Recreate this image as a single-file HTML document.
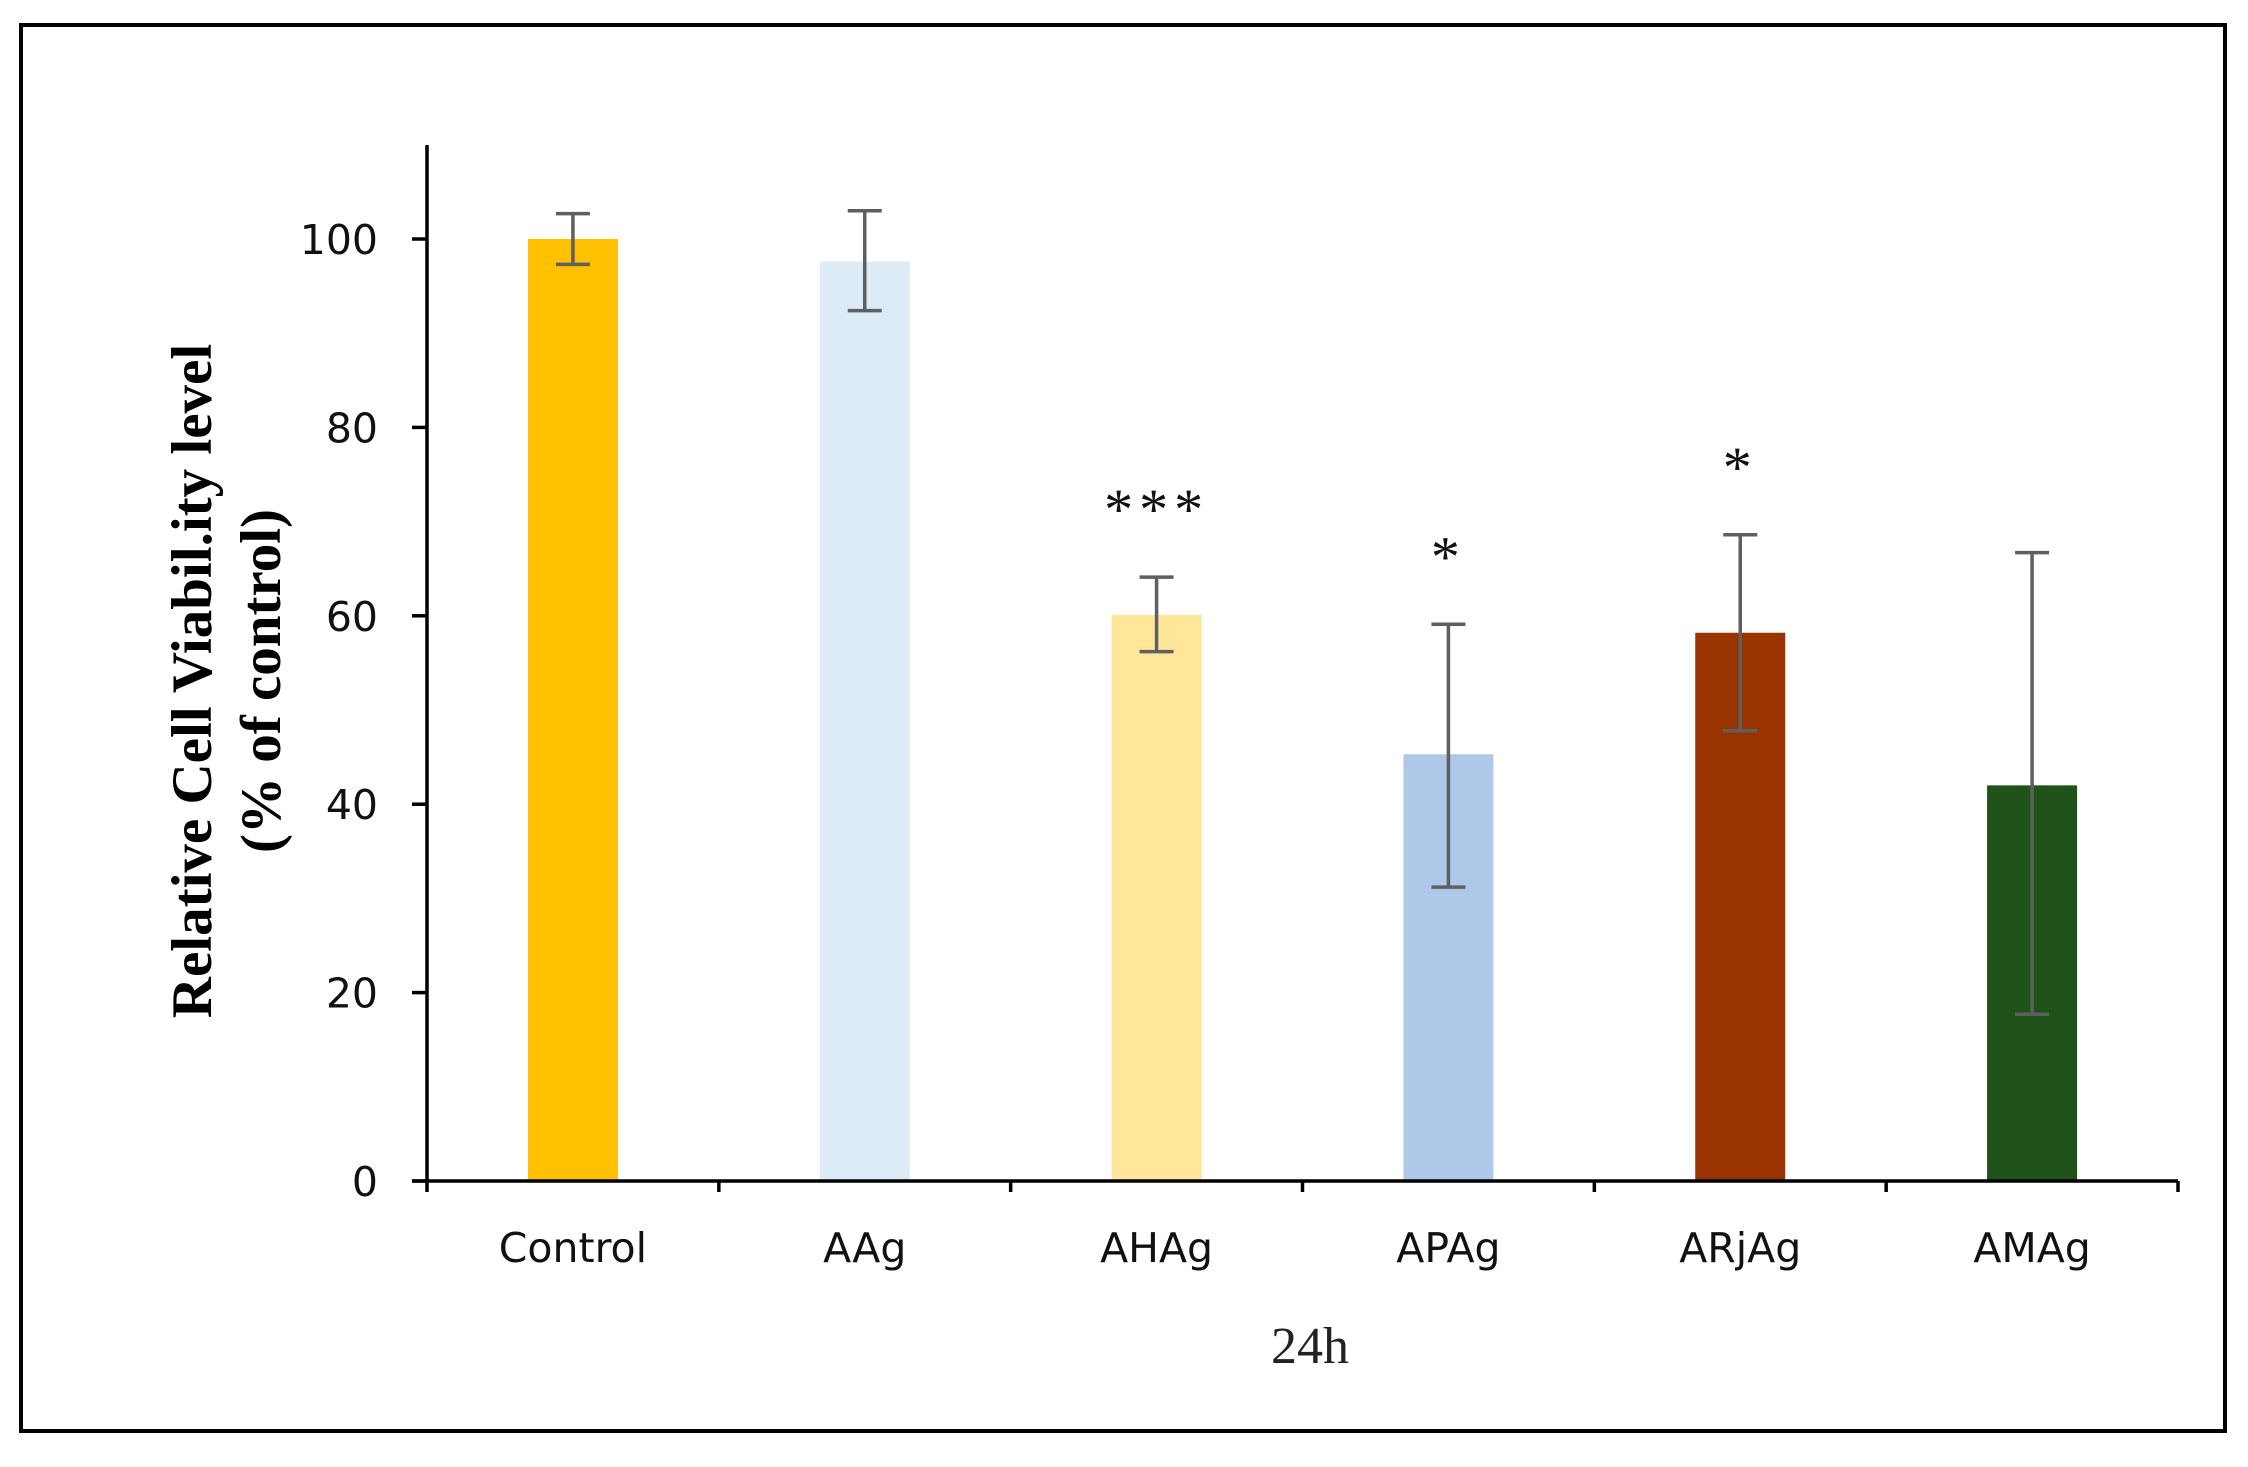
<!DOCTYPE html>
<html><head><meta charset="utf-8">
<style>
html,body{margin:0;padding:0;background:#fff;}
svg{display:block;}
</style></head>
<body>
<svg id="chart" width="2248" height="1467" viewBox="0 0 2248 1467" xmlns="http://www.w3.org/2000/svg">
<rect x="21" y="25" width="2204" height="1406" fill="none" stroke="#000" stroke-width="4"/>
<g id="plot"></g>
<text x="1310" y="1363" font-family="Liberation Serif, serif" font-size="52" text-anchor="middle" fill="#222">24h</text>
<text transform="translate(198,681) rotate(-90)" font-family="Liberation Serif, serif" font-weight="bold" font-size="57" text-anchor="middle" dominant-baseline="middle" fill="#000">Relative Cell Viabil.ity level</text>
<text transform="translate(267,681) rotate(-90)" font-family="Liberation Serif, serif" font-weight="bold" font-size="57" text-anchor="middle" dominant-baseline="middle" fill="#000">(% of control)</text>
</svg>
<script>
const categories = ["Control","AAg","AHAg","APAg","ARjAg","AMAg"];
const values = [100, 97.6, 60.1, 45.3, 58.2, 42.0];
const errUpper = [102.7, 103.0, 64.1, 59.1, 68.6, 66.7];
const errLower = [97.3, 92.4, 56.2, 31.2, 47.8, 17.7];
const stars = ["", "", "***", "*", "*", ""];
const yTicks = [0, 20, 40, 60, 80, 100];
const colors = ["#FFC000","#DDEBF7","#FFE699","#AFC8E9","#993300","#1F5319"];

const NS = "http://www.w3.org/2000/svg";
const g = document.getElementById("plot");
const x0 = 427, x1 = 2178, yZero = 1181, yTop = 145;
const pxPer = (1181 - 239) / 100;
const yS = v => yZero - v * pxPer;
const band = (x1 - x0) / categories.length;
const xC = i => x0 + band * (i + 0.5);
const barW = 90;

function mk(tag, attrs){ const e = document.createElementNS(NS, tag); for (const k in attrs) e.setAttribute(k, attrs[k]); g.appendChild(e); return e; }

categories.forEach((c, i) => {
  const r = mk("rect", {x: xC(i) - barW/2, y: yS(values[i]), width: barW, height: yZero - yS(values[i]), fill: colors[i]});
  
  
});

categories.forEach((c, i) => {
  const cx = xC(i), t = yS(errUpper[i]), b = yS(errLower[i]);
  const eb = mk("path", {d: `M${cx},${t}V${b}M${cx-17},${t}H${cx+17}M${cx-17},${b}H${cx+17}`, stroke: "#5f5f5f", "stroke-width": 3.5, fill: "none"});
  
  
  if (stars[i]) {
    const s = mk("text", {x: cx, y: t - 48, "font-family": "Liberation Serif, serif", "font-size": 58, "letter-spacing": 6, "text-anchor": "middle", fill: "#111"});
    s.textContent = stars[i];
    
    
  }
  const lab = mk("text", {x: cx, y: 1262, "font-family": "DejaVu Sans, sans-serif", "font-size": 41, "text-anchor": "middle", fill: "#111"});
  lab.textContent = c;
  
  
});

const ya = mk("path", {d: `M${x0},${yTop}V${yZero}`, stroke: "#000", "stroke-width": 3.5});


const xa = mk("path", {d: `M${x0-15},${yZero}H${x1}`, stroke: "#000", "stroke-width": 3.5});



for (let i = 0; i <= categories.length; i++) {
  const tx = x0 + band * i;
  const tk = mk("path", {d: `M${tx},${yZero}V${yZero+11}`, stroke: "#000", "stroke-width": 3.5});
  
  
}
yTicks.forEach(v => {
  const tk = mk("path", {d: `M${x0-15},${yS(v)}H${x0}`, stroke: "#000", "stroke-width": 3.5});
  
  
  const t = mk("text", {x: 378, y: yS(v) + 15, "font-family": "DejaVu Sans, sans-serif", "font-size": 41, "text-anchor": "end", fill: "#111"});
  t.textContent = v;
  
  
});
</script>
</body></html>
